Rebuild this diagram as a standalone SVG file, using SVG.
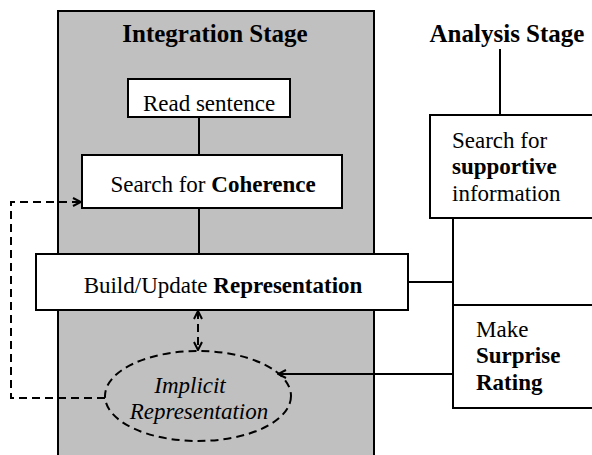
<svg xmlns="http://www.w3.org/2000/svg" width="592" height="455" viewBox="0 0 592 455" font-family="'Liberation Serif', 'Times New Roman', Times, serif">
<style>
.box{fill:#fff;stroke:#000;stroke-width:2}
.ln{fill:none;stroke:#000;stroke-width:2}
.dash{fill:none;stroke:#000;stroke-width:2;stroke-dasharray:8,5}
text{font-size:23px;fill:#000}
.t{font-size:25px;font-weight:bold}
.b{font-weight:bold}
.i{font-style:italic}
</style>
<defs>
<marker id="ah" viewBox="0 0 10 10" refX="9" refY="5" markerWidth="10" markerHeight="10" markerUnits="userSpaceOnUse" orient="auto-start-reverse">
<path d="M1,1 L9,5 L1,9" fill="none" stroke="#000" stroke-width="2"/>
</marker>
</defs>
<rect id="integration-stage" x="58" y="11" width="316" height="460" fill="#c0c0c0" stroke="#000" stroke-width="2"/>
<text class="t" x="215" y="42" text-anchor="middle">Integration Stage</text>
<text id="analysis-stage" class="t" x="507" y="42" text-anchor="middle">Analysis Stage</text>
<g id="connectors">
<line class="ln" x1="199" y1="117" x2="199" y2="155"/>
<line class="ln" x1="199" y1="208" x2="199" y2="254"/>
<line class="ln" x1="500" y1="49" x2="500" y2="115"/>
<line class="ln" x1="453" y1="218" x2="453" y2="305"/>
<line class="ln" x1="408" y1="282" x2="453" y2="282"/>
<line class="ln" x1="453" y1="374" x2="278" y2="374" marker-end="url(#ah)"/>
<path class="dash" d="M105,398 H11 V202 H81" marker-end="url(#ah)"/>
<line class="dash" x1="198" y1="311" x2="198" y2="350" stroke-dasharray="7,5" marker-start="url(#ah)" marker-end="url(#ah)"/>
</g>
<g id="read-sentence">
<rect class="box" x="128" y="79" width="162" height="38"/>
<text x="209" y="111" text-anchor="middle">Read sentence</text>
</g>
<g id="search-coherence">
<rect class="box" x="82" y="155" width="260" height="53"/>
<text x="213" y="192" text-anchor="middle">Search for <tspan class="b">Coherence</tspan></text>
</g>
<g id="build-representation">
<rect class="box" x="36" y="254" width="372" height="56"/>
<text x="223" y="293" text-anchor="middle">Build/Update <tspan class="b">Representation</tspan></text>
</g>
<g id="implicit-representation">
<ellipse class="dash" cx="198" cy="396" rx="93" ry="45"/>
<text class="i" x="190" y="393" text-anchor="middle">Implicit</text>
<text class="i" x="199" y="419" text-anchor="middle">Representation</text>
</g>
<g id="search-supportive">
<rect class="box" x="430" y="115" width="170" height="103"/>
<text x="452" y="148">Search for</text>
<text class="b" x="452" y="174">supportive</text>
<text x="452" y="201">information</text>
</g>
<g id="surprise-rating">
<rect class="box" x="453" y="305" width="147" height="103"/>
<text x="476" y="337">Make</text>
<text class="b" x="476" y="363">Surprise</text>
<text class="b" x="476" y="390">Rating</text>
</g>
</svg>
